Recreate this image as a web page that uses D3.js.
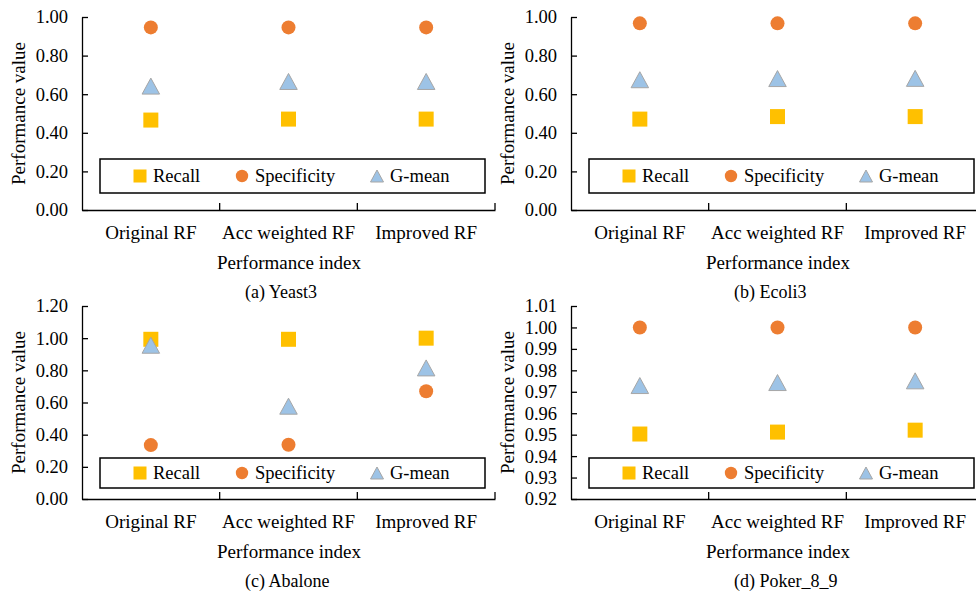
<!DOCTYPE html>
<html>
<head>
<meta charset="utf-8">
<script src="https://cdn.jsdelivr.net/npm/d3@7/dist/d3.min.js"></script>
<style>
  html, body { margin: 0; padding: 0; background: #fff; }
  svg { display: block; }
  text { font-family: "Liberation Serif", "Times New Roman", serif; fill: #000; }
</style>
</head>
<body>
<svg id="chart" width="976" height="593"></svg>
<script>
// ---------- data ----------
const categories = ["Original RF", "Acc weighted RF", "Improved RF"];
const seriesNames = ["Recall", "Specificity", "G-mean"];

const yeast3Recall      = [0.466, 0.471, 0.471];
const yeast3Specificity = [0.946, 0.946, 0.946];
const yeast3Gmean       = [0.642, 0.666, 0.666];

const ecoli3Recall      = [0.471, 0.484, 0.484];
const ecoli3Specificity = [0.967, 0.967, 0.967];
const ecoli3Gmean       = [0.675, 0.681, 0.682];

const abaloneRecall      = [0.993, 0.993, 1.000];
const abaloneSpecificity = [0.335, 0.337, 0.670];
const abaloneGmean       = [0.956, 0.577, 0.815];

const pokerRecall      = [0.9503, 0.9512, 0.9521];
const pokerSpecificity = [1.000, 1.000, 1.000];
const pokerGmean       = [0.9729, 0.9743, 0.9751];

const ticks01   = [0, 0.2, 0.4, 0.6, 0.8, 1.0];
const ticks012  = [0, 0.2, 0.4, 0.6, 0.8, 1.0, 1.2];
const ticksPoker = [0.92, 0.93, 0.94, 0.95, 0.96, 0.97, 0.98, 0.99, 1.00, 1.01];

const captions = ["(a) Yeast3", "(b) Ecoli3", "(c) Abalone", "(d) Poker_8_9"];
const yTitle = "Performance value";
const xTitle = "Performance index";

// ---------- panels ----------
const panels = [
  { caption: captions[0], recall: yeast3Recall, spec: yeast3Specificity, gmean: yeast3Gmean,
    domain: [0, 1], ticks: ticks01, x0: 82, top: 17, legendTop: 159, legendH: 34 },
  { caption: captions[1], recall: ecoli3Recall, spec: ecoli3Specificity, gmean: ecoli3Gmean,
    domain: [0, 1], ticks: ticks01, x0: 571, top: 17, legendTop: 159, legendH: 34 },
  { caption: captions[2], recall: abaloneRecall, spec: abaloneSpecificity, gmean: abaloneGmean,
    domain: [0, 1.2], ticks: ticks012, x0: 82, top: 306, legendTop: 458, legendH: 30 },
  { caption: captions[3], recall: pokerRecall, spec: pokerSpecificity, gmean: pokerGmean,
    domain: [0.92, 1.01], ticks: ticksPoker, x0: 571, top: 306, legendTop: 458, legendH: 30 }
];

const colors = { recall: "#FFC000", spec: "#ED7D31", gmean: "#9DC3E6", gmeanStroke: "#A6A6A6" };
const plotW = 413, plotH = 193;
const fsTick = 18.5, fsCat = 19, fsTitle = 19, fsLegend = 18.5, fsCaption = 18;
const FONT = '"Liberation Serif", "Times New Roman", serif';

const svg = d3.select("#chart");

function trianglePath(cx, cy, w, h) {
  const p = d3.path();
  p.moveTo(cx, cy - h / 2);
  p.lineTo(cx + w / 2, cy + h / 2);
  p.lineTo(cx - w / 2, cy + h / 2);
  p.closePath();
  return p.toString();
}

panels.forEach(pn => {
  const x1 = pn.x0 + plotW;
  const bottom = pn.top + plotH;
  const x = d3.scaleBand().domain(categories).range([pn.x0, x1]);
  const y = d3.scaleLinear().domain(pn.domain).range([bottom, pn.top]);
  const g = svg.append("g");

  // Y axis (inward ticks)
  const yAxis = d3.axisLeft(y).tickValues(pn.ticks).tickFormat(d3.format(".2f"))
    .tickSizeInner(-6).tickSizeOuter(0).tickPadding(14);
  const ya = g.append("g").attr("transform", `translate(${pn.x0},0)`).call(yAxis);
  ya.attr("font-family", null);
  ya.selectAll("text").style("font-size", fsTick + "px").attr("fill", "#000").style("font-family", FONT);
  ya.selectAll("line, path").attr("stroke", "#000").attr("stroke-width", 1.3);

  // X axis with labels at category centers
  const xAxis = d3.axisBottom(x).tickSize(0).tickPadding(16);
  const xa = g.append("g").attr("transform", `translate(0,${bottom})`).call(xAxis);
  xa.attr("font-family", null);
  xa.selectAll("text").style("font-size", fsCat + "px").attr("fill", "#000").style("font-family", FONT);
  xa.select("path").attr("stroke", "#000").attr("stroke-width", 1.3);

  // category boundary ticks (inward)
  g.selectAll(".btick").data(categories).enter().append("line")
    .attr("x1", d => x(d) + x.bandwidth()).attr("x2", d => x(d) + x.bandwidth())
    .attr("y1", bottom).attr("y2", bottom - 7)
    .attr("stroke", "#000").attr("stroke-width", 1.3);

  // axis titles
  g.append("text").attr("transform", `translate(${pn.x0 - 64},${(pn.top + bottom) / 2}) rotate(-90)`)
    .attr("text-anchor", "middle").attr("dy", "0.35em").style("font-size", fsTitle + "px").text(yTitle);
  g.append("text").attr("x", pn.x0 + plotW / 2 + 0.5).attr("y", bottom + 59)
    .attr("text-anchor", "middle").style("font-size", fsTitle + "px").text(xTitle);
  g.append("text").attr("x", pn.x0 + 163).attr("y", bottom + 88)
    .attr("text-anchor", "start").style("font-size", fsCaption + "px").text(pn.caption);

  // legend box
  const lx = pn.x0 + 18, lw = 385;
  g.append("rect").attr("x", lx).attr("y", pn.legendTop).attr("width", lw).attr("height", pn.legendH)
    .attr("fill", "#fff").attr("stroke", "#000").attr("stroke-width", 1.5);
  const ly = pn.legendTop + pn.legendH / 2;
  g.append("rect").attr("x", lx + 40 - 6.5).attr("y", ly - 6.5).attr("width", 13).attr("height", 13)
    .attr("fill", colors.recall);
  g.append("circle").attr("cx", lx + 142).attr("cy", ly).attr("r", 6.2).attr("fill", colors.spec);
  g.append("path").attr("d", trianglePath(lx + 277, ly, 13, 12))
    .attr("fill", colors.gmean).attr("stroke", colors.gmeanStroke).attr("stroke-width", 1);
  [[seriesNames[0], 53], [seriesNames[1], 155], [seriesNames[2], 290]].forEach(([t, off]) => {
    g.append("text").attr("x", lx + off).attr("y", ly).attr("dy", "0.35em")
      .style("font-size", fsLegend + "px").text(t);
  });

  const cx = c => x(c) + x.bandwidth() / 2;

  // markers
  g.selectAll(".rec").data(categories).enter().append("rect")
    .attr("x", (c) => cx(c) - 7.5).attr("y", (c, i) => y(pn.recall[i]) - 7.5)
    .attr("width", 15).attr("height", 15).attr("fill", colors.recall);
  g.selectAll(".spec").data(categories).enter().append("circle")
    .attr("cx", c => cx(c)).attr("cy", (c, i) => y(pn.spec[i])).attr("r", 7)
    .attr("fill", colors.spec);
  g.selectAll(".gm").data(categories).enter().append("path")
    .attr("d", (c, i) => trianglePath(cx(c), y(pn.gmean[i]), 17.5, 16))
    .attr("fill", colors.gmean).attr("stroke", colors.gmeanStroke).attr("stroke-width", 1);
});
</script>
</body>
</html>
